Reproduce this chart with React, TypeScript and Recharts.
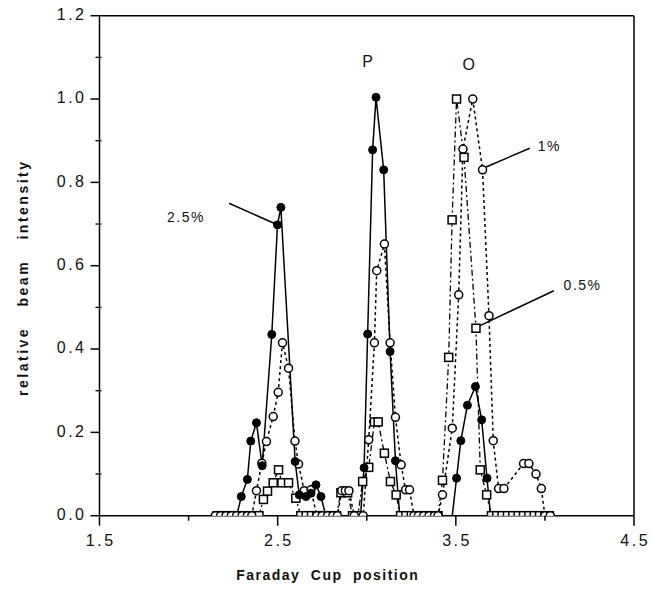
import React from 'react';
import { LineChart, Line, XAxis, YAxis, ReferenceLine, ReferenceDot } from 'recharts';

// 2.5 % (filled circles, solid line)
const series25: [number, number][] = [
  [2.15, 0], [2.18, 0], [2.21, 0], [2.24, 0], [2.27, 0],
  [2.296, 0.046], [2.33, 0.087], [2.349, 0.179], [2.381, 0.223], [2.413, 0.12],
  [2.467, 0.435], [2.499, 0.698], [2.518, 0.74], [2.598, 0.13], [2.621, 0.05],
  [2.659, 0.046], [2.687, 0.054], [2.715, 0.074], [2.743, 0.046],
  [2.77, 0], [2.8, 0], [2.83, 0], [2.86, 0], [2.89, 0], [2.92, 0], [2.95, 0], [2.965, 0],
  [2.985, 0.115], [3.005, 0.436], [3.033, 0.878], [3.052, 1.004], [3.095, 0.83],
  [3.131, 0.394], [3.161, 0.132], [3.185, 0],
  [3.21, 0], [3.24, 0], [3.27, 0], [3.3, 0], [3.33, 0], [3.36, 0], [3.39, 0], [3.42, 0], [3.45, 0], [3.48, 0],
  [3.504, 0.09], [3.528, 0.18], [3.565, 0.265], [3.61, 0.31], [3.645, 0.23], [3.675, 0.09], [3.695, 0],
  [3.72, 0], [3.75, 0],
];

// 1 % (open circles, dotted line)
const series1: [number, number][] = [
  [2.15, 0], [2.18, 0], [2.21, 0], [2.24, 0], [2.27, 0], [2.3, 0], [2.33, 0], [2.355, 0],
  [2.381, 0.06], [2.411, 0.126], [2.437, 0.178], [2.475, 0.238], [2.503, 0.296],
  [2.527, 0.415], [2.561, 0.354], [2.597, 0.179], [2.617, 0.124], [2.649, 0.06], [2.687, 0.062],
  [2.72, 0], [2.75, 0], [2.78, 0], [2.81, 0], [2.835, 0],
  [2.86, 0.06], [2.88, 0.06], [2.9, 0.06], [2.93, 0], [2.98, 0],
  [3.011, 0.182], [3.043, 0.415], [3.056, 0.588], [3.099, 0.652], [3.131, 0.415],
  [3.161, 0.236], [3.193, 0.122], [3.218, 0.062], [3.24, 0.062], [3.265, 0],
  [3.29, 0], [3.32, 0], [3.35, 0], [3.38, 0], [3.4, 0],
  [3.425, 0.05], [3.48, 0.21], [3.516, 0.53], [3.54, 0.88], [3.595, 1.0], [3.65, 0.83],
  [3.686, 0.48], [3.71, 0.18], [3.74, 0.065], [3.77, 0.065], [3.88, 0.125], [3.91, 0.125],
  [3.95, 0.1], [3.98, 0.065], [4.0, 0], [4.03, 0],
];

// 0.5 % (open squares, dash-dot line)
const series05: [number, number][] = [
  [2.16, 0], [2.19, 0], [2.22, 0], [2.25, 0], [2.28, 0], [2.31, 0], [2.34, 0], [2.37, 0], [2.395, 0],
  [2.42, 0.039], [2.443, 0.059], [2.475, 0.079], [2.505, 0.11], [2.524, 0.079], [2.561, 0.079], [2.602, 0.042],
  [2.63, 0], [2.66, 0], [2.69, 0], [2.72, 0], [2.75, 0], [2.78, 0], [2.81, 0], [2.83, 0],
  [2.855, 0.055], [2.893, 0.055], [2.92, 0], [2.95, 0],
  [2.977, 0.082], [3.011, 0.116], [3.043, 0.225], [3.064, 0.225], [3.099, 0.15], [3.133, 0.082], [3.165, 0.05], [3.19, 0],
  [3.22, 0], [3.25, 0], [3.28, 0], [3.31, 0], [3.34, 0], [3.37, 0], [3.4, 0],
  [3.425, 0.085], [3.46, 0.38], [3.479, 0.71], [3.504, 1.0], [3.546, 0.86], [3.613, 0.45], [3.637, 0.11], [3.673, 0.05], [3.7, 0],
  [3.73, 0], [3.76, 0], [3.79, 0], [3.82, 0], [3.85, 0], [3.88, 0], [3.91, 0], [3.94, 0], [3.97, 0], [4.0, 0], [4.025, 0],
];

const xTicks = [1.5, 2.0, 2.5, 3.0, 3.5, 4.0, 4.5];
const xTickLabels = ['1.5', '', '2.5', '', '3.5', '', '4.5'];
const yTicks = [0, 0.1, 0.2, 0.3, 0.4, 0.5, 0.6, 0.7, 0.8, 0.9, 1.0, 1.1, 1.2];
const yTickLabels = ['0.0', '', '0.2', '', '0.4', '', '0.6', '', '0.8', '', '1.0', '', '1.2'];

const toObj = (arr: [number, number][]) => arr.map(([x, y]) => ({ x, y }));
const data25 = toObj(series25);
const data1 = toObj(series1);
const data05 = toObj(series05);

const FONT = '"Liberation Sans", Arial, Helvetica, sans-serif';

const XTick = (props: any) => {
  const { x, y, payload } = props;
  const idx = xTicks.indexOf(payload.value);
  const label = xTickLabels[idx] || '';
  const major = label !== '';
  return (
    <g>
      <line x1={x} x2={x} y1={y} y2={y + (major ? 10 : 5)} stroke="#000" strokeWidth={1.5} />
      {major && (
        <text x={x + 1.2} y={y + 26} textAnchor="middle" dominantBaseline="middle"
          fontFamily={FONT} fontSize={16} letterSpacing={2.5} fill="#111">{label}</text>
      )}
    </g>
  );
};

const YTick = (props: any) => {
  const { x, y, payload } = props;
  const idx = yTicks.findIndex((t) => Math.abs(t - payload.value) < 1e-6);
  const label = yTickLabels[idx] || '';
  const major = label !== '';
  return (
    <g>
      {major ? (
        <line x1={x - 9} x2={x} y1={y} y2={y} stroke="#000" strokeWidth={1.5} />
      ) : (
        <line x1={x - 4} x2={x + 2} y1={y} y2={y} stroke="#000" strokeWidth={1.3} />
      )}
      {major && (
        <text x={x - 13} y={y} textAnchor="end" dominantBaseline="middle"
          fontFamily={FONT} fontSize={16} letterSpacing={2.5} fill="#111">{label}</text>
      )}
    </g>
  );
};

const filledDot = (p: any) =>
  p.value === 0 || (p.payload && p.payload.y === 0) ? (
    <g key={`f-${p.index}`} />
  ) : (
    <circle key={`f-${p.index}`} cx={p.cx} cy={p.cy} r={4} fill="#000" stroke="#000" strokeWidth={1} />
  );
const openDot = (p: any) => (
  <circle key={`o-${p.index}`} cx={p.cx} cy={p.cy} r={4} fill="#fff" stroke="#000" strokeWidth={1.5} />
);
const squareDot = (p: any) => (
  <rect key={`s-${p.index}`} x={p.cx - 4} y={p.cy - 4} width={8} height={8} fill="#fff" stroke="#000" strokeWidth={1.5} />
);

const textLabel = (txt: string, size: number, anchor: 'start' | 'middle' | 'end') => (props: any) => {
  const vb = props.viewBox || {};
  return (
    <text x={vb.x} y={vb.y} textAnchor={anchor} dominantBaseline="middle" fontFamily={FONT}
      fontSize={size} letterSpacing={1.5} fill="#111">{txt}</text>
  );
};

const xTitle = (props: any) => {
  const vb = props.viewBox || {};
  return (
    <text x={vb.x + vb.width / 2 - 39} y={vb.y + 61} textAnchor="middle" dominantBaseline="middle"
      fontFamily={FONT} fontSize={14} fontWeight="bold" letterSpacing={1.5} wordSpacing={5} fill="#111">
      Faraday Cup position
    </text>
  );
};

const yTitle = (props: any) => {
  const vb = props.viewBox || {};
  const cx = 24;
  const cy = vb.y + vb.height / 2 + 12;
  return (
    <text x={cx} y={cy} transform={`rotate(-90 ${cx} ${cy})`} textAnchor="middle" dominantBaseline="middle"
      fontFamily={FONT} fontSize={14} fontWeight="bold" letterSpacing={2.5} wordSpacing={14} fill="#111">
      relative beam intensity
    </text>
  );
};

export default function App() {
  return (
    <div style={{ position: 'absolute', left: 0, top: 0, width: 651, height: 592, background: '#fff', overflow: 'hidden' }}>
      <LineChart width={651} height={592} margin={{ top: 15.7, right: 17, bottom: 0, left: 0 }}>
        <XAxis type="number" dataKey="x" domain={[1.5, 4.5]} ticks={xTicks} allowDataOverflow
          tickSize={0} tickMargin={0} tick={<XTick />} tickLine={false} interval={0}
          axisLine={{ stroke: '#000', strokeWidth: 1.5 }} height={76.3} label={{ content: xTitle }} />
        <YAxis type="number" dataKey="y" domain={[0, 1.2]} ticks={yTicks} allowDataOverflow
          tickSize={0} tickMargin={0} tick={<YTick />} tickLine={false} interval={0}
          axisLine={{ stroke: '#000', strokeWidth: 1.5 }} width={99.5} label={{ content: yTitle }} />
        <ReferenceLine y={1.2} stroke="#000" strokeWidth={1.5} ifOverflow="visible" />
        <ReferenceLine x={4.5} stroke="#000" strokeWidth={1.5} ifOverflow="visible" />

        <Line data={data05} dataKey="y" stroke="#000" strokeWidth={1.3} strokeDasharray="6 3 2 3"
          dot={squareDot} activeDot={false} isAnimationActive={false} />
        <Line data={data1} dataKey="y" stroke="#000" strokeWidth={1.5} strokeDasharray="3 3"
          dot={openDot} activeDot={false} isAnimationActive={false} />
        <Line data={data25} dataKey="y" stroke="#000" strokeWidth={1.5}
          dot={filledDot} activeDot={false} isAnimationActive={false} />

        <ReferenceLine segment={[{ x: 2.227, y: 0.75 }, { x: 2.495, y: 0.699 }]} stroke="#000" strokeWidth={1.5} ifOverflow="visible" />
        <ReferenceLine segment={[{ x: 3.67, y: 0.837 }, { x: 3.915, y: 0.882 }]} stroke="#000" strokeWidth={1.5} ifOverflow="visible" />
        <ReferenceLine segment={[{ x: 3.63, y: 0.455 }, { x: 4.05, y: 0.54 }]} stroke="#000" strokeWidth={1.5} ifOverflow="visible" />

        <ReferenceDot x={1.879} y={0.714} r={0} ifOverflow="visible" label={textLabel('2.5%', 14, 'start')} />
        <ReferenceDot x={3.009} y={1.086} r={0} ifOverflow="visible" label={textLabel('P', 16, 'middle')} />
        <ReferenceDot x={3.577} y={1.081} r={0} ifOverflow="visible" label={textLabel('O', 16, 'middle')} />
        <ReferenceDot x={3.96} y={0.884} r={0} ifOverflow="visible" label={textLabel('1%', 14, 'start')} />
        <ReferenceDot x={4.105} y={0.55} r={0} ifOverflow="visible" label={textLabel('0.5%', 14, 'start')} />
      </LineChart>
    </div>
  );
}
